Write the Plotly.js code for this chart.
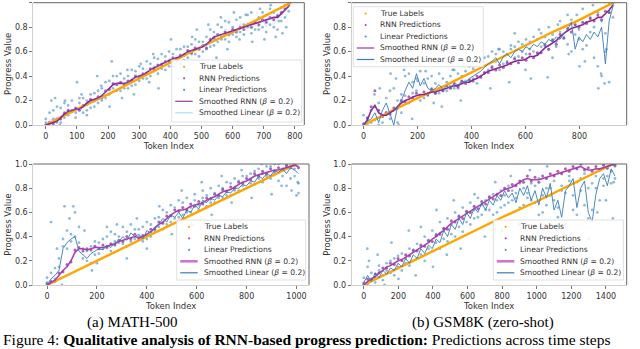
<!DOCTYPE html>
<html>
<head>
<meta charset="utf-8">
<script src="https://cdn.plot.ly/plotly-3.0.1.min.js"></script>
<style>
  html, body { margin: 0; padding: 0; background: #fff; }
  #chart { width: 640px; height: 349px; }
</style>
</head>
<body>
<div id="chart"></div>
<script>
// ---- (a) MATH-500 : top panel ----
const tokA = [0,12,24,36,48,60,72,84,96,108,120,132,144,156,168,180,192,204,216,228,240,252,264,276,288,300,312,324,336,348,360,372,384,396,408,420,432,444,456,468,480,492,504,516,528,540,552,564,576,588,600,612,624,636,648,660,672,684,696,708,720,732,744,756,768,780];
const rnnA = [0.00,0.02,0.01,0.05,0.05,0.10,0.12,0.11,0.14,0.12,0.16,0.17,0.21,0.20,0.23,0.22,0.28,0.29,0.34,0.33,0.35,0.33,0.36,0.36,0.40,0.39,0.42,0.42,0.46,0.46,0.49,0.49,0.52,0.52,0.55,0.54,0.57,0.57,0.61,0.59,0.63,0.62,0.65,0.63,0.70,0.71,0.74,0.72,0.76,0.74,0.78,0.76,0.80,0.78,0.82,0.80,0.84,0.82,0.86,0.84,0.88,0.86,0.89,0.92,0.95,0.98];
const linA = [0.02,0.10,0.05,0.15,0.02,0.18,0.08,0.20,0.10,0.22,0.10,0.12,0.25,0.15,0.28,0.20,0.35,0.25,0.30,0.40,0.28,0.38,0.30,0.45,0.33,0.48,0.38,0.52,0.40,0.55,0.42,0.58,0.45,0.60,0.48,0.62,0.50,0.64,0.55,0.58,0.70,0.56,0.68,0.62,0.78,0.65,0.82,0.70,0.85,0.68,0.80,0.72,0.88,0.74,0.90,0.75,0.85,0.78,0.92,0.76,0.95,0.80,0.90,0.85,0.98,0.93];
const lin2A = [0.05,0.00,0.12,0.02,0.14,0.06,0.16,0.12,0.06,0.18,0.22,0.20,0.14,0.26,0.18,0.30,0.22,0.36,0.40,0.28,0.42,0.30,0.40,0.32,0.44,0.36,0.46,0.38,0.50,0.44,0.54,0.46,0.56,0.48,0.58,0.52,0.62,0.53,0.64,0.66,0.58,0.68,0.60,0.72,0.64,0.76,0.68,0.80,0.70,0.84,0.74,0.86,0.76,0.82,0.80,0.92,0.78,0.88,0.80,0.90,0.82,0.92,0.78,0.96,0.88,1.00];
const smRnnA = [0.00,0.01,0.02,0.03,0.06,0.09,0.11,0.12,0.13,0.13,0.15,0.18,0.20,0.21,0.22,0.24,0.27,0.30,0.33,0.34,0.34,0.34,0.35,0.37,0.39,0.40,0.41,0.43,0.45,0.47,0.48,0.50,0.51,0.53,0.54,0.55,0.56,0.58,0.60,0.61,0.62,0.63,0.64,0.66,0.69,0.72,0.73,0.74,0.75,0.76,0.77,0.78,0.79,0.80,0.81,0.82,0.83,0.84,0.85,0.86,0.87,0.88,0.88,0.91,0.94,0.97];
const smLinA = [0.01,0.04,0.05,0.07,0.08,0.11,0.10,0.13,0.12,0.14,0.12,0.15,0.19,0.18,0.22,0.22,0.28,0.28,0.30,0.34,0.31,0.35,0.34,0.39,0.37,0.42,0.40,0.46,0.44,0.49,0.47,0.52,0.50,0.55,0.53,0.57,0.55,0.60,0.58,0.60,0.66,0.61,0.66,0.64,0.72,0.68,0.75,0.72,0.79,0.72,0.77,0.75,0.83,0.77,0.84,0.78,0.82,0.80,0.86,0.80,0.89,0.82,0.87,0.88,0.94,0.96];
const outAx = [18,30,45,62,100,115,132,165,178,205,212,245,262,283,305,332,345,362,402,425,452,470,485,503,522,548,562,583,604,622,642,663,688,702,722,738,748,760,772];
const outAy = [0.20,0.22,0.00,0.20,0.35,0.25,0.08,0.40,0.32,0.15,0.52,0.22,0.45,0.25,0.50,0.35,0.58,0.30,0.70,0.38,0.45,0.72,0.78,0.50,0.82,0.55,0.88,0.62,0.92,0.70,0.90,0.68,0.95,0.70,0.98,0.72,0.85,0.75,0.80];
const trueAx = [0,100,200,300,400,500,600,700,787];
const trueAy = [0.00,0.13,0.25,0.38,0.51,0.64,0.76,0.89,1.00];
const ticksA = [0,100,200,300,400,500,600,700,800];

// ---- (b) GSM8K : top panel ----
const tokB = [0,14,28,42,56,70,84,98,112,126,140,154,168,182,196,210,224,238,252,266,280,294,308,322,336,350,364,378,392,406,420,434,448,462,476,490,504,518,532,546,560,574,588,602,616,630,644,658,672,686,700,714,728,742,756,770,784,798,812,826,840,854,868,882,896,910,924];
const rnnB = [0.01,0.06,0.15,0.28,0.12,0.07,0.10,0.09,0.14,0.14,0.20,0.19,0.23,0.22,0.26,0.24,0.27,0.25,0.29,0.26,0.30,0.28,0.32,0.30,0.34,0.31,0.36,0.34,0.37,0.36,0.40,0.39,0.43,0.43,0.47,0.45,0.49,0.47,0.51,0.50,0.54,0.51,0.55,0.53,0.58,0.55,0.59,0.59,0.65,0.62,0.69,0.66,0.74,0.71,0.79,0.76,0.82,0.80,0.84,0.83,0.87,0.85,0.90,0.86,0.93,0.92,1.00];
const linB = [0.00,0.05,0.02,0.15,0.00,0.08,0.22,0.05,0.30,0.02,0.25,0.40,0.18,0.35,0.28,0.44,0.22,0.38,0.30,0.26,0.42,0.28,0.35,0.32,0.45,0.30,0.40,0.36,0.48,0.38,0.52,0.40,0.55,0.45,0.60,0.52,0.62,0.50,0.58,0.65,0.55,0.68,0.60,0.70,0.62,0.72,0.58,0.75,0.66,0.80,0.70,0.68,0.85,0.72,0.90,0.60,0.82,0.70,0.95,0.65,0.88,0.55,0.92,0.40,0.75,0.35,0.98];
const lin2B = [0.08,0.00,0.12,0.04,0.18,0.02,0.10,0.28,0.12,0.20,0.10,0.24,0.42,0.26,0.38,0.20,0.34,0.24,0.40,0.34,0.26,0.38,0.28,0.40,0.30,0.42,0.34,0.44,0.36,0.46,0.34,0.50,0.42,0.56,0.48,0.58,0.45,0.60,0.52,0.62,0.64,0.56,0.66,0.58,0.68,0.60,0.70,0.64,0.72,0.62,0.74,0.64,0.76,0.80,0.66,0.86,0.74,0.78,0.62,0.84,0.76,0.80,0.48,0.85,0.60,0.92,0.88];
const smRnnB = [0.00,0.04,0.12,0.16,0.10,0.08,0.08,0.10,0.12,0.15,0.18,0.20,0.21,0.23,0.24,0.25,0.25,0.26,0.27,0.27,0.28,0.29,0.30,0.31,0.32,0.32,0.34,0.35,0.35,0.37,0.38,0.40,0.42,0.44,0.45,0.46,0.47,0.48,0.49,0.51,0.52,0.53,0.53,0.54,0.56,0.56,0.57,0.60,0.63,0.65,0.67,0.69,0.72,0.75,0.77,0.79,0.80,0.81,0.82,0.84,0.85,0.86,0.88,0.88,0.91,0.94,0.98];
const smLinB = [0.00,0.03,0.05,0.10,0.02,0.12,0.18,0.08,0.00,0.15,0.20,0.28,0.35,0.30,0.42,0.32,0.38,0.30,0.28,0.30,0.33,0.29,0.32,0.30,0.34,0.33,0.36,0.35,0.38,0.40,0.42,0.44,0.47,0.50,0.52,0.55,0.50,0.56,0.58,0.55,0.60,0.62,0.60,0.64,0.62,0.66,0.64,0.68,0.66,0.70,0.68,0.72,0.70,0.75,0.78,0.84,0.62,0.72,0.68,0.74,0.70,0.76,0.72,0.80,0.50,0.85,0.97];
const outBx = [40,60,100,120,130,150,170,180,200,230,260,290,330,360,420,470,500,540,560,600,620,650,682,700,720,760,790,800,820,850,870,880,893,900,910];
const outBy = [0.25,0.30,0.42,0.38,0.00,0.45,0.50,0.05,0.36,0.44,0.18,0.15,0.45,0.20,0.52,0.30,0.62,0.35,0.75,0.45,0.38,0.78,0.39,0.55,0.82,0.58,0.90,0.48,0.52,0.98,0.30,0.42,0.34,0.62,1.00];
const trueBx = [0,100,200,300,400,500,600,700,800,900,925];
const trueBy = [0.00,0.11,0.22,0.32,0.43,0.54,0.65,0.76,0.86,0.97,1.00];
const ticksB = [0,200,400,600,800];

// ---- (a) MATH-500 : bottom panel ----
const tokC = [0,16,32,48,64,80,96,112,128,144,160,176,192,208,224,240,256,272,288,304,320,336,352,368,384,400,416,432,448,464,480,496,512,528,544,560,576,592,608,624,640,656,672,688,704,720,736,752,768,784,800,816,832,848,864,880,896,912,928,944,960,976,992,1008];
const rnnC = [0.01,0.03,0.03,0.10,0.11,0.17,0.19,0.29,0.31,0.28,0.30,0.29,0.32,0.30,0.33,0.31,0.34,0.33,0.37,0.36,0.40,0.38,0.42,0.38,0.41,0.41,0.46,0.46,0.52,0.51,0.57,0.57,0.62,0.61,0.64,0.62,0.67,0.65,0.69,0.67,0.72,0.71,0.75,0.74,0.79,0.77,0.81,0.80,0.85,0.84,0.88,0.87,0.92,0.90,0.94,0.92,0.96,0.94,0.97,0.95,0.99,0.97,1.00,0.97];
const linC = [0.02,0.10,0.05,0.15,0.38,0.30,0.42,0.60,0.35,0.22,0.28,0.18,0.25,0.35,0.30,0.40,0.28,0.42,0.35,0.48,0.32,0.50,0.38,0.46,0.36,0.52,0.40,0.55,0.48,0.62,0.50,0.66,0.55,0.70,0.58,0.72,0.60,0.75,0.62,0.78,0.65,0.80,0.68,0.82,0.72,0.85,0.74,0.88,0.78,0.90,0.80,0.92,0.83,0.96,0.85,0.98,0.88,1.00,0.86,0.96,0.82,0.98,0.90,0.76];
const lin2C = [0.06,0.02,0.14,0.22,0.32,0.45,0.36,0.40,0.48,0.30,0.20,0.32,0.36,0.26,0.38,0.32,0.44,0.36,0.40,0.34,0.44,0.36,0.46,0.40,0.48,0.38,0.50,0.44,0.56,0.46,0.60,0.52,0.64,0.56,0.68,0.60,0.64,0.70,0.66,0.72,0.74,0.68,0.76,0.72,0.80,0.74,0.84,0.78,0.86,0.82,0.90,0.84,0.94,0.88,0.92,0.90,0.98,0.92,1.00,0.90,0.98,0.88,0.96,0.84];
const smRnnC = [0.00,0.02,0.04,0.08,0.12,0.15,0.20,0.27,0.30,0.30,0.29,0.30,0.31,0.31,0.31,0.32,0.33,0.34,0.36,0.37,0.38,0.39,0.40,0.39,0.40,0.42,0.44,0.47,0.50,0.52,0.55,0.58,0.60,0.62,0.62,0.63,0.65,0.66,0.67,0.68,0.70,0.72,0.73,0.75,0.77,0.78,0.79,0.81,0.83,0.85,0.86,0.88,0.90,0.91,0.92,0.93,0.94,0.95,0.95,0.96,0.97,0.98,0.99,0.98];
const smLinC = [0.00,0.05,0.08,0.12,0.30,0.35,0.38,0.40,0.28,0.25,0.22,0.26,0.28,0.30,0.29,0.33,0.31,0.35,0.36,0.40,0.37,0.43,0.40,0.42,0.38,0.45,0.43,0.48,0.50,0.55,0.52,0.58,0.56,0.60,0.55,0.62,0.60,0.66,0.63,0.70,0.68,0.72,0.70,0.74,0.73,0.77,0.76,0.80,0.80,0.83,0.82,0.86,0.85,0.90,0.88,0.92,0.90,0.95,0.93,0.96,0.92,0.97,0.95,0.92];
const outCx = [16,40,60,70,90,105,150,180,200,240,280,320,360,400,450,500,540,580,620,660,700,740,780,820,860,900,940,980,1000,1005];
const outCy = [0.52,0.30,0.00,0.65,0.55,0.65,0.45,0.12,0.18,0.48,0.50,0.22,0.55,0.30,0.65,0.42,0.78,0.50,0.85,0.58,0.90,0.68,0.95,0.72,1.00,0.75,0.82,0.78,0.74,0.85];
const trueCx = [0,100,200,300,400,500,600,700,800,900,1000];
const trueCy = [0.00,0.10,0.20,0.30,0.40,0.50,0.60,0.70,0.80,0.90,1.00];
const ticksC = [0,200,400,600,800,1000];

// ---- (b) GSM8K : bottom panel ----
const tokD = [0,22,44,66,88,110,132,154,176,198,220,242,264,286,308,330,352,374,396,418,440,462,484,506,528,550,572,594,616,638,660,682,704,726,748,770,792,814,836,858,880,902,924,946,968,990,1012,1034,1056,1078,1100,1122,1144,1166,1188,1210,1232,1254,1276,1298,1320,1342,1364,1386,1408,1430,1452];
const rnnD = [0.01,0.05,0.04,0.09,0.10,0.14,0.14,0.18,0.17,0.22,0.20,0.25,0.24,0.29,0.28,0.33,0.32,0.37,0.36,0.41,0.42,0.47,0.46,0.53,0.52,0.57,0.55,0.61,0.60,0.65,0.63,0.69,0.67,0.73,0.71,0.75,0.74,0.80,0.78,0.83,0.82,0.86,0.85,0.90,0.86,0.89,0.85,0.90,0.88,0.92,0.90,0.94,0.92,0.96,0.94,0.98,0.96,1.00,0.95,0.97,0.94,0.98,0.95,0.99,0.97,1.00,0.99];
const linD = [0.02,0.15,0.05,0.02,0.12,0.08,0.18,0.10,0.22,0.15,0.26,0.18,0.30,0.20,0.34,0.25,0.40,0.30,0.45,0.35,0.52,0.38,0.55,0.42,0.60,0.48,0.64,0.52,0.68,0.55,0.72,0.58,0.70,0.62,0.75,0.60,0.78,0.66,0.82,0.70,0.76,0.64,0.80,0.72,0.84,0.68,0.88,0.60,0.80,0.74,0.86,0.56,0.82,0.76,0.90,0.62,0.85,0.78,0.92,0.55,0.84,0.80,0.95,0.88,0.96,0.84,0.98];
const lin2D = [0.06,0.00,0.10,0.06,0.16,0.04,0.12,0.20,0.08,0.24,0.12,0.22,0.16,0.28,0.22,0.32,0.20,0.36,0.28,0.42,0.30,0.46,0.36,0.50,0.40,0.56,0.44,0.60,0.50,0.62,0.56,0.66,0.62,0.72,0.58,0.70,0.64,0.74,0.68,0.78,0.72,0.84,0.66,0.76,0.70,0.82,0.58,0.74,0.66,0.80,0.70,0.64,0.78,0.50,0.86,0.74,0.58,0.88,0.66,0.80,0.62,0.90,0.70,0.82,0.90,0.94,0.88];
const smRnnD = [0.00,0.03,0.05,0.07,0.10,0.12,0.15,0.16,0.18,0.20,0.21,0.23,0.25,0.27,0.29,0.31,0.33,0.35,0.38,0.40,0.43,0.45,0.48,0.51,0.53,0.55,0.57,0.59,0.61,0.63,0.65,0.67,0.69,0.71,0.73,0.75,0.77,0.79,0.80,0.81,0.83,0.85,0.87,0.88,0.87,0.87,0.87,0.88,0.89,0.90,0.91,0.92,0.93,0.94,0.95,0.96,0.97,0.98,0.96,0.95,0.95,0.96,0.96,0.97,0.98,0.99,1.00];
const smLinD = [0.02,0.08,0.03,0.10,0.06,0.12,0.09,0.14,0.12,0.18,0.15,0.22,0.18,0.25,0.22,0.30,0.26,0.33,0.30,0.38,0.35,0.45,0.40,0.50,0.46,0.55,0.50,0.60,0.55,0.64,0.60,0.68,0.62,0.70,0.66,0.74,0.70,0.78,0.72,0.76,0.68,0.80,0.74,0.82,0.70,0.78,0.66,0.80,0.72,0.84,0.62,0.70,0.56,0.78,0.82,0.88,0.64,0.80,0.86,0.60,0.52,0.75,0.88,0.92,0.82,0.96,0.90];
const outDx = [20,30,80,120,160,200,260,300,330,400,420,480,520,560,640,700,760,800,850,900,960,1000,1060,1120,1200,1260,1300,1350,1400,1440,1445];
const outDy = [0.30,0.20,0.25,0.00,0.35,0.05,0.45,0.08,0.48,0.15,0.62,0.25,0.70,0.30,0.75,0.40,0.85,0.45,0.90,0.50,0.95,0.40,0.98,0.45,0.42,1.00,0.38,0.60,0.70,0.55,0.85];
const trueDx = [0,200,400,600,800,1000,1200,1400,1440];
const trueDy = [0.00,0.14,0.28,0.42,0.56,0.69,0.83,0.97,1.00];
const ticksD = [0,200,400,600,800,1000,1200,1400];

const legendLabels = ['True Labels', 'RNN Predictions', 'Linear Predictions',
  'Smoothed RNN (<i>β</i> = 0.2)', 'Smoothed Linear (<i>β</i> = 0.2)'];

const W = 640, H = 349;
const px = v => v / W;
const py = v => 1 - v / H;

const ORANGE = '#ffa500';
const FONT = 'DejaVu Sans, sans-serif';

// frame = [left, right, top, bottom] in pixels, box = legend [left, top, width, height]
const panels = [
  { tok: tokA, rnn: rnnA, lin: linA, lin2: lin2A, smRnn: smRnnA, smLin: smLinA, outX: outAx, outY: outAy,
    trueX: trueAx, trueY: trueAy, ticks: ticksA, range: [-40, 830],
    frame: [33.3, 304.3, 2.7, 125], box: [171.7, 60, 130, 62],
    rnnLine: { color: 'rgb(140,40,150)', width: 1.6 }, linLine: { color: 'rgba(135,206,235,0.35)', width: 1 },
    rnnKey: { color: 'rgb(150,60,160)', width: 1.2 }, linKey: { color: 'rgba(160,215,240,0.7)', width: 1.5 } },
  { tok: tokB, rnn: rnnB, lin: linB, lin2: lin2B, smRnn: smRnnB, smLin: smLinB, outX: outBx, outY: outBy,
    trueX: trueBx, trueY: trueBy, ticks: ticksB, range: [-44, 975],
    frame: [351.7, 626.7, 2.7, 125], box: [353.3, 6.7, 130, 60],
    rnnLine: { color: 'rgb(140,40,150)', width: 1.6 }, linLine: { color: 'rgb(55,125,185)', width: 0.9 },
    rnnKey: { color: 'rgb(150,60,160)', width: 1.2 }, linKey: { color: 'rgb(55,125,185)', width: 1.2 } },
  { tok: tokC, rnn: rnnC, lin: linC, lin2: lin2C, smRnn: smRnnC, smLin: smLinC, outX: outCx, outY: outCy,
    trueX: trueCx, trueY: trueCy, ticks: ticksC, range: [-55, 1050],
    frame: [33.3, 309, 164, 285], box: [176.7, 220, 129, 60],
    rnnLine: { color: 'rgba(165,45,170,0.9)', width: 1.6 }, linLine: { color: 'rgb(55,125,185)', width: 0.9 },
    rnnKey: { color: 'rgb(205,115,205)', width: 2.5 }, linKey: { color: 'rgb(55,125,185)', width: 1.2 } },
  { tok: tokD, rnn: rnnD, lin: linD, lin2: lin2D, smRnn: smRnnD, smLin: smLinD, outX: outDx, outY: outDy,
    trueX: trueDx, trueY: trueDy, ticks: ticksD, range: [-70, 1520],
    frame: [351.7, 626.7, 164, 285], box: [493.3, 220, 130, 60],
    rnnLine: { color: 'rgba(165,45,170,0.9)', width: 1.6 }, linLine: { color: 'rgb(55,125,185)', width: 0.9 },
    rnnKey: { color: 'rgb(205,115,205)', width: 2.5 }, linKey: { color: 'rgb(55,125,185)', width: 1.2 } }
];

const data = [];
const shapes = [];
const annotations = [];
const layout = {
  width: W, height: H,
  margin: { l: 0, r: 0, t: 0, b: 0 },
  paper_bgcolor: '#fff', plot_bgcolor: '#fff',
  showlegend: false,
  font: { family: FONT, size: 8, color: '#333' }
};

panels.forEach((p, i) => {
  const n = i === 0 ? '' : String(i + 1);
  const xa = 'x' + n, ya = 'y' + n;
  const [l, r, t, b] = p.frame;

  layout['xaxis' + n] = {
    domain: [px(l), px(r)], anchor: ya, range: p.range,
    tickvals: p.ticks, ticks: 'outside', ticklen: 3, tickwidth: 0.8, tickcolor: '#555',
    showline: true, linecolor: '#cfcfcf', linewidth: 1, mirror: false,
    showgrid: false, zeroline: false,
    tickfont: { family: FONT, size: 8, color: '#333' },
    title: { text: 'Token Index', font: { family: FONT, size: 8.5, color: '#333' }, standoff: 0 }
  };
  layout['yaxis' + n] = {
    domain: [py(b), py(t)], anchor: xa, range: [0, 1],
    tickvals: [0, 0.2, 0.4, 0.6, 0.8, 1.0], tickformat: '.1f',
    ticks: 'outside', ticklen: 3, tickwidth: 0.8, tickcolor: '#555',
    showline: true, linecolor: '#cfcfcf', linewidth: 1, mirror: false,
    showgrid: false, zeroline: false,
    tickfont: { family: FONT, size: 8, color: '#333' },
    title: { text: 'Progress Value', font: { family: FONT, size: 8.5, color: '#333' }, standoff: 1 }
  };

  // top + right spines are darker than left + bottom
  shapes.push({ type: 'line', xref: xa + ' domain', yref: ya + ' domain', x0: 0, x1: 1, y0: 1, y1: 1, line: { color: '#666', width: 1 } });
  shapes.push({ type: 'line', xref: xa + ' domain', yref: ya + ' domain', x0: 1, x1: 1, y0: 0, y1: 1, line: { color: '#666', width: 1 } });

  data.push({
    x: p.tok, y: p.rnn, xaxis: xa, yaxis: ya, type: 'scatter', mode: 'markers',
    marker: { size: 3, color: 'rgba(145,45,155,0.75)' }, hoverinfo: 'skip'
  });
  data.push({
    x: p.tok.concat(p.tok, p.outX), y: p.lin.concat(p.lin2, p.outY), xaxis: xa, yaxis: ya, type: 'scatter', mode: 'markers',
    marker: { size: 2.8, color: 'rgba(31,119,180,0.5)' }, hoverinfo: 'skip'
  });
  data.push({
    x: p.trueX, y: p.trueY, xaxis: xa, yaxis: ya, type: 'scatter', mode: 'lines',
    line: { color: ORANGE, width: 2.4 }, hoverinfo: 'skip'
  });
  data.push({
    x: p.tok, y: p.smRnn, xaxis: xa, yaxis: ya, type: 'scatter', mode: 'lines',
    line: p.rnnLine, hoverinfo: 'skip'
  });
  data.push({
    x: p.tok, y: p.smLin, xaxis: xa, yaxis: ya, type: 'scatter', mode: 'lines',
    line: p.linLine, hoverinfo: 'skip'
  });

  // legend box drawn by hand (plotly legend rows are too tall at this size)
  const [bl, bt, bw, bh] = p.box;
  shapes.push({ type: 'rect', xref: 'paper', yref: 'paper', x0: px(bl), x1: px(bl + bw), y0: py(bt + bh), y1: py(bt),
    fillcolor: 'rgba(255,255,255,0.85)', line: { color: '#d8d8d8', width: 0.8 } });
  const dotColors = [ORANGE, 'rgb(170,80,175)', 'rgb(80,150,205)'];
  legendLabels.forEach((lab, k) => {
    const ry = bt + 6.8 + 11.5 * k;
    if (k < 3) {
      shapes.push({ type: 'circle', xref: 'paper', yref: 'paper', x0: px(bl + 11.3), x1: px(bl + 13.5), y0: py(ry + 1.1), y1: py(ry - 1.1),
        fillcolor: dotColors[k], line: { width: 0 } });
    } else {
      const key = k === 3 ? p.rnnKey : p.linKey;
      shapes.push({ type: 'line', xref: 'paper', yref: 'paper', x0: px(bl + 3.5), x1: px(bl + 21), y0: py(ry), y1: py(ry), line: key });
    }
    annotations.push({ xref: 'paper', yref: 'paper', x: px(bl + 25), y: py(ry), xanchor: 'left', yanchor: 'middle',
      text: lab, showarrow: false, font: { family: FONT, size: 7.6, color: '#333' } });
  });
});

const SERIF = 'Liberation Serif, Times New Roman, serif';
annotations.push({ xref: 'paper', yref: 'paper', x: px(132), y: py(322), xanchor: 'center', yanchor: 'middle',
  text: '(a) MATH-500', showarrow: false, font: { family: SERIF, size: 15, color: '#000' } });
annotations.push({ xref: 'paper', yref: 'paper', x: px(483), y: py(322), xanchor: 'center', yanchor: 'middle',
  text: '(b) GSM8K (zero-shot)', showarrow: false, font: { family: SERIF, size: 15, color: '#000' } });
annotations.push({ xref: 'paper', yref: 'paper', x: px(1), y: py(339.5), xanchor: 'left', yanchor: 'middle',
  text: 'Figure 4: <b>Qualitative analysis of RNN-based progress prediction:</b> Predictions across time steps',
  showarrow: false, font: { family: SERIF, size: 15.5, color: '#000' } });

layout.shapes = shapes;
layout.annotations = annotations;

Plotly.newPlot('chart', data, layout, { staticPlot: true, displayModeBar: false });
</script>
</body>
</html>
